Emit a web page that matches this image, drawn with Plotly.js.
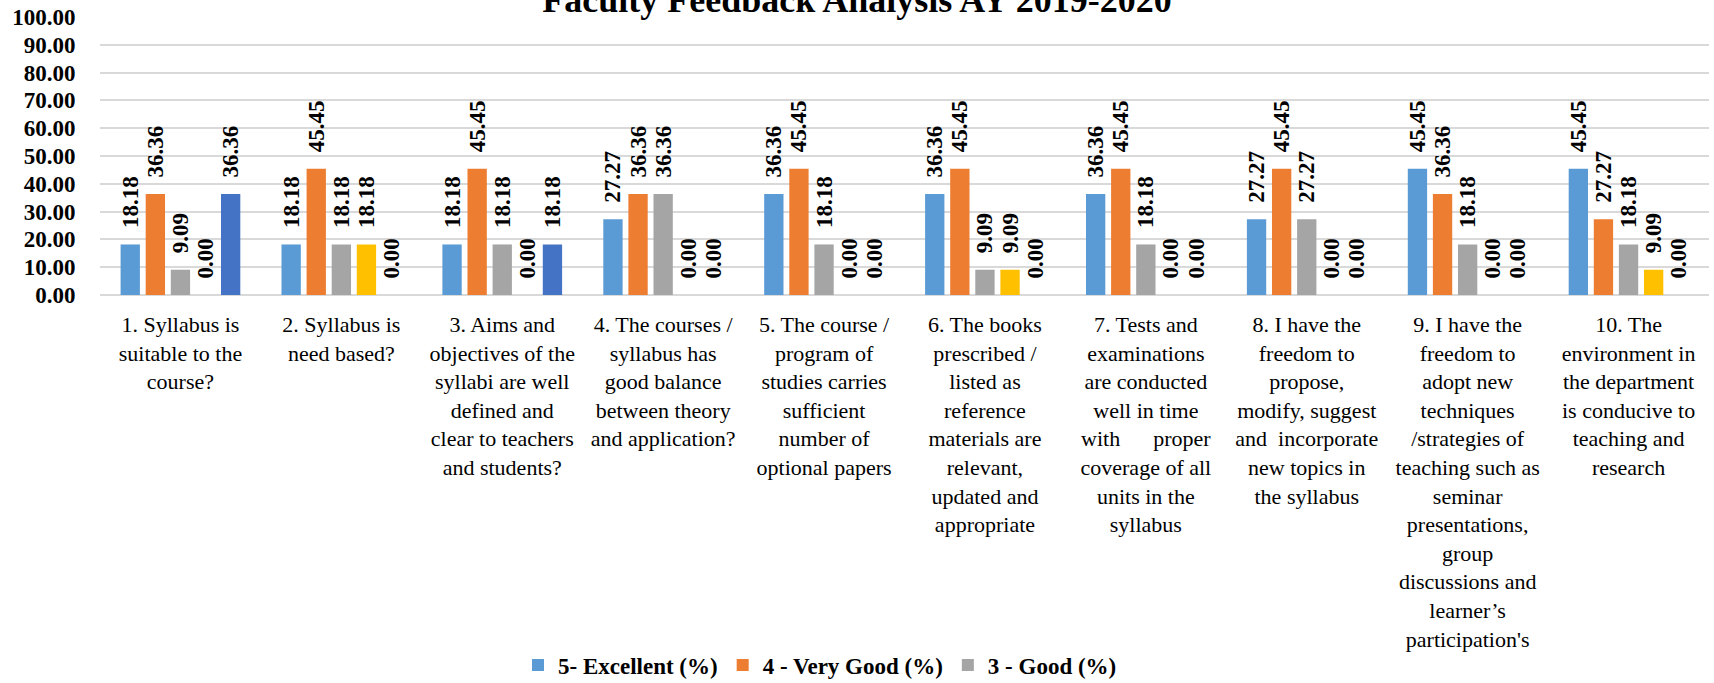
<!DOCTYPE html>
<html>
<head>
<meta charset="utf-8">
<script src="https://cdn.plot.ly/plotly-3.0.1.min.js"></script>
<style>
html,body{margin:0;padding:0;background:#fff;}
#chart{width:1714px;height:683px;}
</style>
</head>
<body>
<div id="chart"></div>
<script>
const categories = [
  "1. Syllabus is<br>suitable to the<br>course?",
  "2. Syllabus is<br>need based?",
  "3. Aims and<br>objectives of the<br>syllabi are well<br>defined and<br>clear to teachers<br>and students?",
  "4. The courses /<br>syllabus has<br>good balance<br>between theory<br>and application?",
  "5. The course /<br>program of<br>studies carries<br>sufficient<br>number of<br>optional papers",
  "6. The books<br>prescribed /<br>listed as<br>reference<br>materials are<br>relevant,<br>updated and<br>appropriate",
  "7. Tests and<br>examinations<br>are conducted<br>well in time<br>with\u00A0\u00A0\u00A0\u00A0\u00A0\u00A0proper<br>coverage of all<br>units in the<br>syllabus",
  "8. I have the<br>freedom to<br>propose,<br>modify, suggest<br>and\u00A0\u00A0incorporate<br>new topics in<br>the syllabus",
  "9. I have the<br>freedom to<br>adopt new<br>techniques<br>/strategies of<br>teaching such as<br>seminar<br>presentations,<br>group<br>discussions and<br>learner\u2019s<br>participation's",
  "10. The<br>environment in<br>the department<br>is conducive to<br>teaching and<br>research"
];
const seriesNames = ["5- Excellent (%)", "4 - Very Good (%)", "3 - Good (%)", "2 - Average (%)", "1 - Poor (%)"];
const excellent = [18.18, 18.18, 18.18, 27.27, 36.36, 36.36, 36.36, 27.27, 45.45, 45.45];
const veryGood  = [36.36, 45.45, 45.45, 36.36, 45.45, 45.45, 45.45, 45.45, 36.36, 27.27];
const good      = [9.09, 18.18, 18.18, 36.36, 18.18, 9.09, 18.18, 27.27, 18.18, 18.18];
const average   = [0.00, 18.18, 0.00, 0.00, 0.00, 9.09, 0.00, 0.00, 0.00, 9.09];
const poor      = [36.36, 0.00, 18.18, 0.00, 0.00, 0.00, 0.00, 0.00, 0.00, 0.00];
const colors = ["#5B9BD5", "#ED7D31", "#A5A5A5", "#FFC000", "#4472C4"];
const inLegend = [true, true, true, false, false];

const allValues = [excellent, veryGood, good, average, poor];
const serif = "Liberation Serif";

const traces = allValues.map((vals, i) => ({
  type: "bar",
  name: seriesNames[i],
  x: categories,
  y: vals,
  marker: {color: colors[i], line: {width: 0}},
  text: vals.map(v => v.toFixed(2)),
  texttemplate: "\u2002\u200A%{text}",
  textposition: "outside",
  textangle: -90,
  constraintext: "none",
  cliponaxis: false,
  textfont: {family: serif, size: 23, color: "#000", weight: "bold"},
  showlegend: inLegend[i],
  hoverinfo: "x+y+name"
}));

const layout = {
  width: 1714,
  height: 683,
  paper_bgcolor: "#fff",
  plot_bgcolor: "#fff",
  margin: {l: 100, r: 5, t: 17, b: 388},
  barmode: "group",
  bargap: 0.22,
  bargroupgap: 0.23,
  title: {
    text: "<b>Faculty Feedback Analysis AY 2019-2020</b>",
    font: {family: serif, size: 36, color: "#000"},
    x: 0.5, xref: "container", xanchor: "center",
    y: 1 - 12/683, yref: "container", yanchor: "bottom"
  },
  xaxis: {
    type: "category",
    showgrid: false,
    showline: false,
    zeroline: false,
    ticks: "",
    tickangle: 0,
    ticklabelstandoff: 14,
    tickfont: {family: serif, size: 22, color: "#000"},
    automargin: false
  },
  yaxis: {
    range: [0, 100],
    dtick: 10,
    tickformat: ".2f",
    showgrid: true,
    gridcolor: "#D9D9D9",
    gridwidth: 2,
    zeroline: true,
    zerolinecolor: "#D9D9D9",
    zerolinewidth: 2,
    showline: false,
    ticks: "outside",
    ticklen: 19,
    tickcolor: "rgba(0,0,0,0)",
    tickfont: {family: serif, size: 23, color: "#000", weight: "bold"},
    automargin: false
  },
  legend: {
    orientation: "h",
    xref: "container", yref: "container",
    x: 518/1714, xanchor: "left",
    y: 1 - 665/683, yanchor: "middle",
    font: {family: serif, size: 23, color: "#000", weight: "bold"},
    itemwidth: 30,
    traceorder: "normal"
  },
  showlegend: true
};

Plotly.newPlot("chart", traces, layout, {displayModeBar: false, responsive: false});
</script>
</body>
</html>
